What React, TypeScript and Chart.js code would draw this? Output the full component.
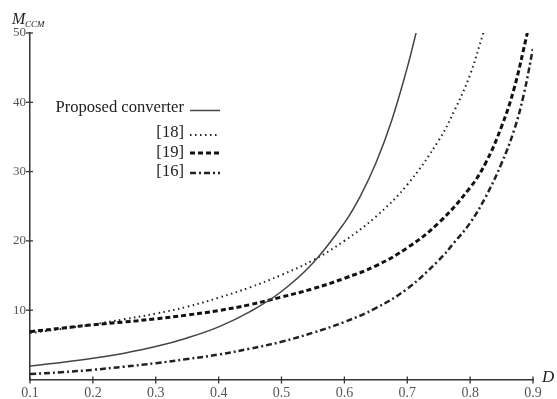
import React, { useEffect, useRef } from 'react';
import { Chart, registerables } from 'chart.js';

Chart.register(...registerables);

// Axis ticks
const xTicks = [0.1, 0.2, 0.3, 0.4, 0.5, 0.6, 0.7, 0.8, 0.9];
const yTicks = [10, 20, 30, 40, 50];

// Series names
const seriesNames = ['Proposed converter', '[18]', '[19]', '[16]'];

// Proposed converter (solid)
const proposedD = [0.1, 0.15, 0.2, 0.25, 0.3, 0.35, 0.4, 0.45, 0.5, 0.55, 0.6, 0.625, 0.65, 0.675, 0.7, 0.714];
const proposedM = [1.95, 2.45, 3.05, 3.8, 4.75, 6.0, 7.6, 9.8, 12.7, 16.8, 22.6, 26.4, 31.2, 37.3, 45.0, 50];

// [18] (dotted)
const ref18D = [0.1, 0.15, 0.2, 0.25, 0.3, 0.35, 0.4, 0.45, 0.5, 0.55, 0.6, 0.65, 0.7, 0.75, 0.775, 0.8, 0.821];
const ref18M = [6.7, 7.3, 7.95, 8.7, 9.5, 10.5, 11.8, 13.3, 15.1, 17.2, 20.0, 23.5, 28.1, 34.5, 38.8, 44.0, 50];

// [19] (dashed)
const ref19D = [0.1, 0.15, 0.2, 0.25, 0.3, 0.35, 0.4, 0.45, 0.5, 0.55, 0.6, 0.65, 0.7, 0.75, 0.8, 0.825, 0.85, 0.87, 0.891];
const ref19M = [6.9, 7.4, 7.9, 8.3, 8.75, 9.3, 9.95, 10.8, 11.9, 13.1, 14.6, 16.4, 19.0, 22.6, 27.7, 31.3, 36.5, 42.0, 50];

// [16] (dash-dot)
const ref16D = [0.1, 0.15, 0.2, 0.25, 0.3, 0.35, 0.4, 0.45, 0.5, 0.55, 0.6, 0.65, 0.7, 0.75, 0.775, 0.8, 0.825, 0.85, 0.87, 0.885, 0.9];
const ref16M = [0.8, 1.05, 1.4, 1.85, 2.35, 2.95, 3.6, 4.45, 5.45, 6.75, 8.3, 10.3, 13.1, 17.2, 19.8, 22.6, 26.4, 31.2, 36.0, 41.0, 47.8];

const toPoints = (xs: number[], ys: number[]) => xs.map((x, i) => ({ x, y: ys[i] }));

const SERIF = "'Liberation Serif', 'DejaVu Serif', serif";

const legendPlugin = {
  id: 'customLegend',
  afterDraw(chart: any) {
    const ctx = chart.ctx;
    const rows = [
      { ty: 108, ly: 110.5 },
      { ty: 133, ly: 135 },
      { ty: 153, ly: 153 },
      { ty: 172, ly: 173 },
    ];
    ctx.save();
    ctx.font = `16.6px ${SERIF}`;
    ctx.fillStyle = '#222';
    ctx.textAlign = 'right';
    ctx.textBaseline = 'middle';
    chart.data.datasets.forEach((ds: any, i: number) => {
      const r = rows[i];
      ctx.fillText(ds.label, 184, r.ty);
      ctx.beginPath();
      ctx.strokeStyle = ds.borderColor;
      ctx.lineWidth = ds.borderWidth;
      ctx.lineCap = 'butt';
      ctx.setLineDash(ds.borderDash || []);
      ctx.moveTo(190, r.ly);
      ctx.lineTo(220, r.ly);
      ctx.stroke();
    });
    ctx.setLineDash([]);

    // tick marks crossing the axes
    const xs = chart.scales.x;
    const ys = chart.scales.y;
    const area = chart.chartArea;
    ctx.strokeStyle = '#333';
    ctx.lineWidth = 1.3;
    xs.ticks.forEach((t: any) => {
      const px = xs.getPixelForValue(t.value);
      ctx.beginPath();
      ctx.moveTo(px, area.bottom - 3);
      ctx.lineTo(px, area.bottom + 4);
      ctx.stroke();
    });
    ys.ticks.forEach((t: any) => {
      const py = ys.getPixelForValue(t.value);
      ctx.beginPath();
      ctx.moveTo(area.left - 4, py);
      ctx.lineTo(area.left + 3, py);
      ctx.stroke();
    });

    // axis titles
    ctx.fillStyle = '#222';
    ctx.textAlign = 'left';
    ctx.textBaseline = 'alphabetic';
    ctx.font = `italic 16px ${SERIF}`;
    ctx.fillText('M', 12, 24);
    ctx.font = `italic 9px ${SERIF}`;
    ctx.fillText('CCM', 25, 27);
    ctx.font = `italic 17px ${SERIF}`;
    ctx.textBaseline = 'middle';
    ctx.fillText('D', 542, 378);
    ctx.restore();
  },
};

export default function App() {
  const canvasRef = useRef<HTMLCanvasElement | null>(null);

  useEffect(() => {
    if (!canvasRef.current) return;
    const common = {
      pointRadius: 0,
      fill: false,
      tension: 0.4,
    };
    const chart = new Chart(canvasRef.current, {
      type: 'line',
      data: {
        datasets: [
          {
            ...common,
            label: seriesNames[0],
            data: toPoints(proposedD, proposedM),
            borderColor: '#444',
            borderWidth: 1.5,
          },
          {
            ...common,
            label: seriesNames[1],
            data: toPoints(ref18D, ref18M),
            borderColor: '#222',
            borderWidth: 2,
            borderDash: [1.5, 3.5],
          },
          {
            ...common,
            label: seriesNames[2],
            data: toPoints(ref19D, ref19M),
            borderColor: '#111',
            borderWidth: 3,
            borderDash: [5, 3],
          },
          {
            ...common,
            label: seriesNames[3],
            data: toPoints(ref16D, ref16M),
            borderColor: '#222',
            borderWidth: 2.5,
            borderDash: [6, 3, 2, 3],
          },
        ],
      },
      options: {
        responsive: false,
        animation: false,
        layout: { padding: { top: 33, right: 24, left: 0, bottom: 0 } },
        plugins: {
          legend: { display: false },
          tooltip: { enabled: false },
        },
        scales: {
          x: {
            type: 'linear',
            min: 0.1,
            max: 0.9,
            afterBuildTicks: (s: any) => {
              s.ticks = xTicks.map((v) => ({ value: v }));
            },
            afterFit: (s: any) => {
              s.height = 19.5;
            },
            ticks: {
              callback: (v: any) => Number(v).toFixed(1),
              font: { family: SERIF, size: 14 },
              color: '#555',
              padding: 5,
              maxRotation: 0,
              autoSkip: false,
            },
            grid: { display: true, drawOnChartArea: false, drawTicks: false },
            border: { display: true, color: '#333', width: 1.5 },
          },
          y: {
            type: 'linear',
            min: 0,
            max: 50,
            afterBuildTicks: (s: any) => {
              s.ticks = yTicks.map((v) => ({ value: v }));
            },
            afterFit: (s: any) => {
              s.width = 30;
            },
            ticks: {
              font: { family: SERIF, size: 13 },
              color: '#555',
              padding: 4,
              autoSkip: false,
            },
            grid: { display: true, drawOnChartArea: false, drawTicks: false },
            border: { display: true, color: '#333', width: 1.5 },
          },
        },
      },
      plugins: [legendPlugin],
    });
    return () => chart.destroy();
  }, []);

  return (
    <div style={{ position: 'fixed', left: 0, top: 0, width: 557, height: 399, background: '#fff' }}>
      <canvas ref={canvasRef} width={557} height={399} />
    </div>
  );
}
